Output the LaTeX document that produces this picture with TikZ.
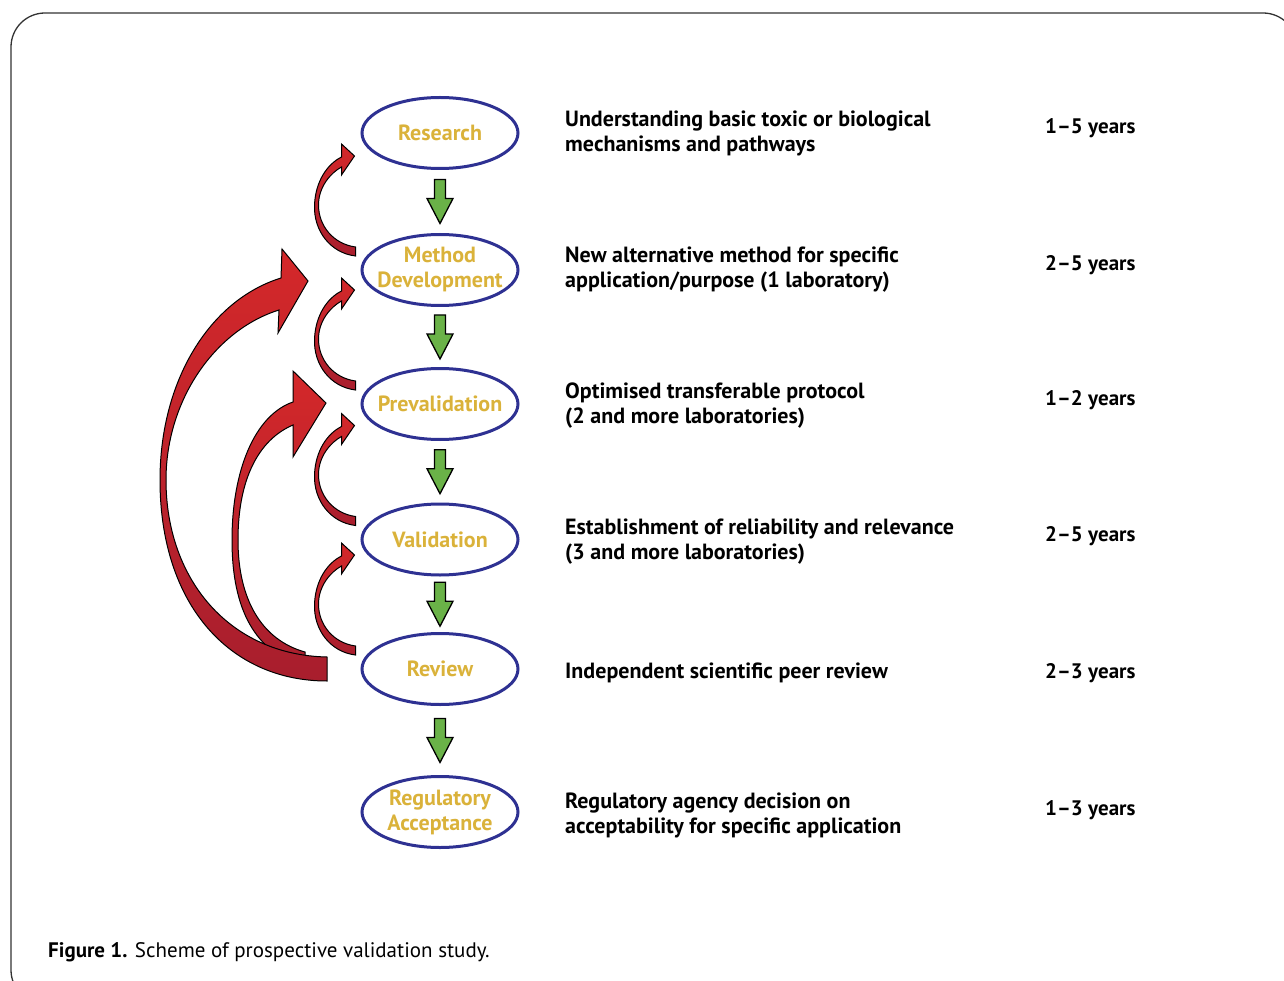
\documentclass[tikz,border=0pt]{standalone}
\usepackage{fontspec}
\setmainfont{PT Sans}
\usepackage{tikz}
\usetikzlibrary{calc, shapes.geometric}

\definecolor{ringblue}{RGB}{46,49,146}
\definecolor{labelgold}{RGB}{218,178,58}
\definecolor{stepgreen}{RGB}{106,178,72}
\definecolor{loopred}{RGB}{212,40,42}
\definecolor{loopdark}{RGB}{168,30,45}

\tikzset{
	stage/.style={ellipse, draw=ringblue, line width=3pt, minimum width=156pt, minimum height=71pt, inner sep=-14pt, align=center, text=labelgold, font=\fontsize{22}{25}\selectfont\bfseries},
	desc/.style={anchor=west, align=left, inner xsep=0pt, font=\fontsize{22}{25}\selectfont\bfseries},
	yearlbl/.style={anchor=west, inner xsep=0pt, font=\fontsize{21}{25}\selectfont\bfseries},
	redfill/.style={draw=black, line width=1pt, top color=loopred, bottom color=loopdark, line join=miter},
	downarrow/.pic={
		\draw[fill=stepgreen, line width=1.3pt, line join=miter] (-5.5,-22) -- (5.5,-22) -- (5.5,-3) -- (13,-3) -- (0,22) -- (-13,-3) -- (-5.5,-3) -- cycle;
	},
	backloop/.pic={
		\draw[redfill] (0,-4) -- (0,5) .. controls (-25,2) and (-42,-20) .. (-41,-46) .. controls (-40,-70) and (-28,-87) .. (-14,-94) -- (-14,-107) -- (-1,-95) -- (-14,-76) -- (-14,-84) .. controls (-25,-78) and (-37,-64) .. (-37,-46) .. controls (-37,-25) and (-22,-7) .. (0,-4) -- cycle;
	},
	bigloop/.pic={
		\draw[redfill] (-22,-1) -- (-22,-17) .. controls (-65,-29) and (-89,-69) .. (-89,-129) .. controls (-89,-189) and (-69,-229) .. (-34,-244) -- (-34,-212) -- (-1,-266) -- (-34,-298) -- (-34,-267) .. controls (-72,-254) and (-95,-199) .. (-95,-129) .. controls (-95,-59) and (-72,-17) .. (-22,-1) -- cycle;
		\draw[redfill] (0,-12) -- (0,12) .. controls (-97,12) and (-167,-64) .. (-167,-189) .. controls (-167,-289) and (-117,-369) .. (-46,-391) -- (-45,-420) -- (-19,-388) -- (-49,-336) -- (-48,-359) .. controls (-112,-339) and (-161,-269) .. (-161,-189) .. controls (-161,-89) and (-97,-14) .. (0,-12) -- cycle;
	},
}

\begin{document}
\begin{tikzpicture}[x=1pt, y=-1pt]

	\useasboundingbox (0,0) rectangle (1284,981);
	\draw[line width=1.3pt, draw=black!80, rounded corners=34pt] (11,1004) rectangle (1297,13);

	\node[stage] (res) at (440,133) {Research};
	\node[stage] (meth) at (440,270) {Method\\Development};
	\node[stage] (prev) at (440,404) {Prevalidation};
	\node[stage] (val) at (440,539.5) {Validation};
	\node[stage] (rev) at (440,669) {Review};
	\node[stage] (reg) at (440,812) {Regulatory\\Acceptance};

	\foreach \a/\b in {res/meth, meth/prev, prev/val, val/rev, rev/reg}
		\pic at ($(\a.south)!0.5!(\b.north)$) {downarrow};

	% feedback arrows
	\pic at ($(rev.west)+(-33.5,0)$) {bigloop};
	\foreach \n in {meth, prev, val, rev}
		\pic at ($(\n.west)+(-5,-19)$) {backloop};

	\node[desc] (d1) at (565,133.5) {Understanding basic toxic or biological\\mechanisms and pathways};
	\node[desc] (d2) at (565,269.5) {New alternative method for specific\\application/purpose (1 laboratory)};
	\node[desc] (d3) at (565,405.5) {Optimised transferable protocol\\(2 and more laboratories)};
	\node[desc] (d4) at (565,541.5) {Establishment of reliability and relevance\\(3 and more laboratories)};
	\node[desc] (d5) at (565,673) {Independent scientific peer review};
	\node[desc] (d6) at (565,815.5) {Regulatory agency decision on\\acceptability for specific application};

	\node[yearlbl] (y1) at (1045,128) {1--5 years};
	\node[yearlbl] (y2) at (1045,265) {2--5 years};
	\node[yearlbl] (y3) at (1045,400) {1--2 years};
	\node[yearlbl] (y4) at (1045,536) {2--5 years};
	\node[yearlbl] (y5) at (1045,673) {2--3 years};
	\node[yearlbl] (y6) at (1045,810) {1--3 years};

	\node[anchor=west, inner xsep=0pt, font=\fontsize{21}{24}\selectfont] (cap) at (48,952) {\textbf{Figure 1.} Scheme of prospective validation study.};

\end{tikzpicture}
\end{document}
